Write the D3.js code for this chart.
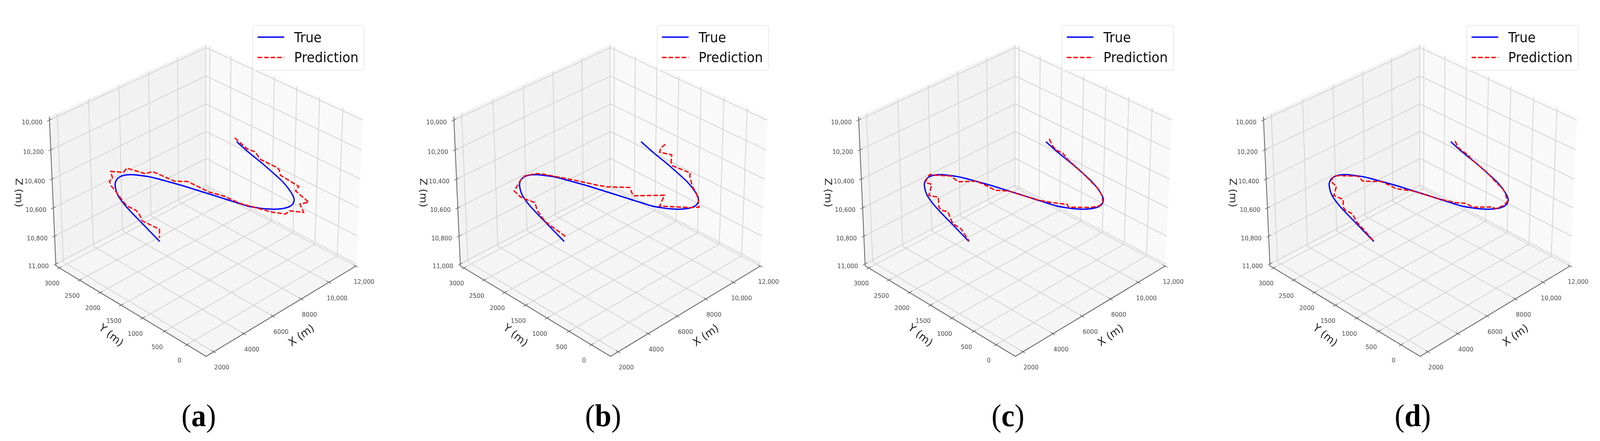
<!DOCTYPE html>
<html><head><meta charset="utf-8"><script src="https://cdn.jsdelivr.net/npm/d3@7"></script>
<style>body{margin:0;background:#fff;overflow:hidden}svg{display:block}text{font-family:"DejaVu Sans"}</style></head><body>
<script>
// tick values and axis limits
var xTicks=[2000,4000,6000,8000,10000,12000];
var yTicks=[0,500,1000,1500,2000,2500,3000];
var zTicks=[10000,10200,10400,10600,10800,11000];
var xLim=[1505,12030],yLim=[-421,3088],zLim=[11013,9978];
var panelNames=["a","b","c","d"];
var seriesNames=["True","Prediction"];

// true trajectory, same in all panels (x, y, z in m)
var trueX=[9370,9290,9190,9120,9030,8920,8810,8640,8450,8320,8130,7930,7700,7440,7260,7130,7000,6970,6900,6840,6860,6790,6710,6610,6500,6420,6280,6160,5960,5750,5570,5330,5140,4920,4760,4620,4470,4300,4130,3970];
var trueY=[1494,1319,1105,901,692,481,284,105,-44,-116,-156,-151,-96,13,146,295,480,663,902,1146,1421,1667,1912,2153,2396,2576,2743,2877,2984,3035,3042,2995,2916,2793,2649,2474,2246,1976,1710,1452];
var trueZ=[10300,10310,10320,10330,10340,10350,10360,10370,10380,10390,10400,10410,10420,10430,10440,10450,10460,10470,10480,10490,10510,10520,10530,10540,10550,10560,10570,10580,10590,10600,10610,10620,10630,10640,10650,10660,10670,10680,10690,10700];

// predictions
var predAX=[9570,9340,9500,9260,9370,9420,9170,9240,8930,8720,8410,8080,7800,7570,7340,7170,6990,7030,6880,7010,6670,6660,6710,6410,6230,5920,5620,5310,5100,4950,4860,4690,4600,4730,4680,4460,4620,4180];
var predAY=[1602,1253,1120,913,622,556,445,68,40,-308,-215,-394,-176,-169,44,341,668,1010,1292,1842,2035,2450,2574,2644,3024,2999,3204,3046,3052,2944,2805,2584,2448,2285,2179,2033,1683,1533];
var predAZ=[10300,10310,10320,10330,10340,10350,10360,10380,10390,10400,10410,10420,10430,10440,10450,10460,10470,10480,10490,10510,10520,10530,10540,10550,10560,10570,10580,10590,10600,10610,10620,10640,10650,10660,10670,10680,10690,10700];
var predBX=[10030,9720,9580,9920,9440,9390,9710,9590,9070,8870,8620,8310,8090,7240,8310,7300,7830,7210,7120,6830,6400,6190,6170,5750,5390,5040,4770,4700,4820,5020,4780,4450,4320];
var predBY=[1153,1158,1140,974,838,790,491,468,251,102,-25,-134,-9,389,621,999,1246,1535,1776,2125,2535,2780,2916,3018,2996,2942,2926,2750,2670,2511,2374,2067,1540];
var predBZ=[10300,10310,10330,10340,10350,10360,10380,10390,10400,10410,10430,10440,10450,10460,10480,10490,10500,10510,10530,10540,10550,10560,10580,10590,10600,10610,10630,10640,10650,10660,10680,10690,10700];
var predCX=[9690,9400,9340,9460,9290,9120,8860,8770,8530,8230,7950,7650,7030,7260,7070,6830,6660,6610,6290,6370,6410,5830,6040,5780,5660,5460,5180,5370,4650,4960,4440,4420,4730,4370,4330,4390,4000];
var predCY=[1520,1354,1233,1140,969,606,300,143,-20,-134,-143,-47,232,337,597,847,1218,1437,1634,1899,2120,2350,2603,2847,2982,2964,2917,2827,2639,2523,2321,2260,2213,2002,1937,1785,1460];
var predCZ=[10300,10310,10320,10330,10340,10360,10370,10380,10390,10400,10410,10420,10430,10440,10460,10470,10480,10490,10500,10510,10520,10530,10540,10560,10570,10580,10590,10600,10610,10620,10630,10640,10660,10670,10680,10690,10700];
var predDX=[9570,9330,9340,9350,9380,9120,8820,8770,8580,8220,7900,7670,7780,7220,7300,7110,6860,6750,6760,6430,6540,6570,6050,6290,5800,5750,5370,5330,4740,4910,4510,4490,4670,4420,4270,3990];
var predDY=[1458,1316,1233,1088,1032,606,287,143,19,-129,-127,-44,54,292,492,643,955,1249,1522,1782,1940,2176,2430,2637,2891,3018,2972,2815,2672,2505,2361,2304,2196,2019,1796,1464];
var predDZ=[10300,10310,10320,10330,10350,10360,10370,10380,10390,10400,10410,10430,10440,10450,10460,10470,10480,10490,10510,10520,10530,10540,10550,10560,10570,10590,10600,10610,10620,10630,10640,10650,10670,10680,10690,10700];
var predX=[predAX,predBX,predCX,predDX],predY=[predAY,predBY,predCY,predDY],predZ=[predAZ,predBZ,predCZ,predDZ];

var W=4324,H=1128;
var panelCx=[557,1650,2744,3838];

// the window may be narrower than the reference, so draw in reference units and fit
var svg=d3.select("body").append("svg")
  .attr("width",window.innerWidth).attr("height",window.innerHeight)
  .attr("viewBox","0 0 "+W+" "+H).attr("preserveAspectRatio","none");

// the reference is a soft upscaled bitmap
svg.append("defs").append("filter").attr("id","soft")
  .attr("filterUnits","userSpaceOnUse").attr("x",-560).attr("y",0).attr("width",1050).attr("height",1000)
  .append("feGaussianBlur").attr("stdDeviation",0.7);

// scales into the 3d box (aspect 4:4:3), then mplot3d style view at elev 30, azim -135
var A=0.5715,C=0.4287,F=5130,CY=493.4;
var x3=d3.scaleLinear().domain(xLim).range([-A,A]);
var y3=d3.scaleLinear().domain(yLim).range([-A,A]);
var z3=d3.scaleLinear().domain(zLim).range([-C,C]);
function proj(x,y,z){
  var X=x3(x),Y=y3(y),Z=z3(z);
  var u=Math.SQRT1_2*(X-Y),v=0.35355*(X+Y)+0.86603*Z,w=10+0.61237*(X+Y)-0.5*Z;
  return [F*u/w,CY-F*v/w];
}
var line=d3.line();
var smooth=d3.line().curve(d3.curveCatmullRom);
function tickFmt(t){return t>=10000?d3.format(",")(t):String(t);}
function pts(xs,ys,zs){return xs.map(function(d,i){return proj(d,ys[i],zs[i]);});}

var xa=xLim[0],xb=xLim[1],ya=yLim[0],yb=yLim[1],za=zLim[0],zb=zLim[1];
var gridCol="#d2d2d2",axisCol="#666",tickCol="#444",labCol="#222";

panelCx.forEach(function(cx,pi){
  var outer=svg.append("g").attr("transform","translate("+cx+",0)");
  var g=outer.append("g").attr("filter","url(#soft)");
  function pl(p,col,w){return g.append("path").attr("d",line(p)).attr("fill","none").attr("stroke",col).attr("stroke-width",w);}
  function pane(p,c){g.append("path").attr("d",line(p)+"Z").attr("fill",c);}
  pane([proj(xa,yb,za),proj(xb,yb,za),proj(xb,yb,zb),proj(xa,yb,zb)],"#f2f2f2");
  pane([proj(xb,ya,za),proj(xb,yb,za),proj(xb,yb,zb),proj(xb,ya,zb)],"#f9f9f9");
  pane([proj(xa,ya,za),proj(xb,ya,za),proj(xb,yb,za),proj(xa,yb,za)],"#f5f5f5");

  xTicks.forEach(function(t){pl([proj(t,ya,za),proj(t,yb,za),proj(t,yb,zb)],gridCol,2);});
  yTicks.forEach(function(t){pl([proj(xa,t,za),proj(xb,t,za),proj(xb,t,zb)],gridCol,2);});
  zTicks.forEach(function(t){pl([proj(xa,yb,t),proj(xb,yb,t),proj(xb,ya,t)],gridCol,2);});

  pl([proj(xb,ya,za),proj(xa,ya,za),proj(xa,yb,za),proj(xa,yb,zb)],axisCol,2.2);
  function tickText(x,y,s,anchor){
    g.append("text").attr("x",x).attr("y",y).attr("dy","0.35em").attr("text-anchor",anchor)
      .attr("font-size",16).attr("fill",tickCol).text(s);
  }
  xTicks.forEach(function(t){
    pl([proj(t,ya-47,za),proj(t,ya+47,za)],axisCol,1.6);
    var p=proj(t,ya,za);tickText(p[0]+22,p[1]+40,tickFmt(t),"middle");
  });
  yTicks.forEach(function(t){
    pl([proj(xa-140,t,za),proj(xa+140,t,za)],axisCol,1.6);
    var p=proj(xa,t,za);tickText(p[0]-20,p[1]+39.5,tickFmt(t),"middle");
  });
  zTicks.forEach(function(t){
    pl([proj(xa-140,yb,t),proj(xa+140,yb,t)],axisCol,1.6);
    var p=proj(xa,yb,t);tickText(p[0]-19,p[1]+5,tickFmt(t),"end");
  });

  g.append("path").attr("d",smooth(pts(trueX,trueY,trueZ))).attr("fill","none").attr("stroke","#0000ff").attr("stroke-width",3.5);
  g.append("path").attr("d",line(pts(predX[pi],predY[pi],predZ[pi]))).attr("fill","none").attr("stroke","#ff0000").attr("stroke-width",3.5).attr("stroke-dasharray","12.5,5.2");

  function axisLabel(tx,ty,rot,s,size){
    g.append("text").attr("transform","translate("+tx+","+ty+") rotate("+rot+")").attr("text-anchor","middle")
      .attr("dy","0.35em").attr("font-size",size).attr("fill",labCol).text(s);
  }
  axisLabel(257,857,-34,"X (m)",28);
  axisLabel(-256,857,38,"Y (m)",28);
  axisLabel(-505,493,90,"Z (m)",27);

  // legend
  g.append("rect").attr("x",126).attr("y",65).attr("width",301).attr("height",115).attr("rx",7)
    .attr("fill","#fff").attr("fill-opacity",0.85).attr("stroke","#ececec").attr("stroke-width",2.5);
  pl([[139,95],[211,95]],"#0000ff",3.5);
  pl([[139,147],[211,147]],"#ff0000",3.5).attr("stroke-dasharray","12.5,5.2");
  g.append("text").attr("x",238).attr("y",108).attr("font-size",35).attr("fill","#111").text(seriesNames[0]);
  g.append("text").attr("x",238).attr("y",159).attr("font-size",35).attr("fill","#111").text(seriesNames[1]);

  // panel letter
  var t=outer.append("text").attr("x",-20).attr("y",1090).attr("text-anchor","middle").attr("font-size",80).attr("fill","#000").style("font-family","Liberation Serif");
  t.append("tspan").text("(");
  t.append("tspan").attr("font-weight","bold").text(panelNames[pi]);
  t.append("tspan").text(")");
});
</script></body></html>
